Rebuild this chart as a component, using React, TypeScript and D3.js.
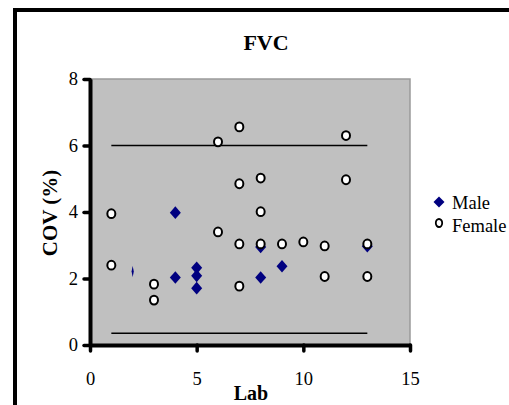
import React, { useRef, useEffect } from 'react';
import * as d3 from 'd3';

// values
const maleLab = [2, 4, 4, 5, 5, 5, 8, 8, 9, 13];
const maleCov = [2.21, 3.98, 2.03, 2.32, 2.08, 1.71, 2.95, 2.03, 2.37, 2.97];

const femaleLab = [1, 1, 3, 3, 6, 6, 7, 7, 7, 7, 8, 8, 8, 9, 10, 11, 11, 12, 12, 13, 13];
const femaleCov = [3.95, 2.4, 1.83, 1.35, 3.4, 6.11, 6.56, 4.85, 3.04, 1.77, 5.02, 4.01, 3.04, 3.04, 3.1, 2.98, 2.06, 6.3, 4.97, 3.04, 2.06];

const refLevels = [6, 0.35];
const refRange = [1, 13];

const xTicks = [0, 5, 10, 15];
const yTicks = [0, 2, 4, 6, 8];
const legendLabels = ['Male', 'Female'];

const FONT = 'Liberation Serif, Times New Roman, serif';
const NAVY = '#000080';

const App = () => {
  const ref = useRef<SVGSVGElement>(null);

  useEffect(() => {
    const width = 509, height = 405;
    const svg = d3.select(ref.current)
      .attr('width', width)
      .attr('height', height)
      .attr('font-family', FONT)
      .style('background-color', 'white');

    svg.selectAll('*').remove();

    const left = 90, top = 79, right = 410, bottom = 345;

    // outer frame, runs off the window on the right and bottom
    svg.append('rect')
      .attr('x', 15).attr('y', 10)
      .attr('width', 600).attr('height', 500)
      .attr('fill', 'none')
      .attr('stroke', 'black')
      .attr('stroke-width', 4);

    const x = d3.scaleLinear().domain([0, 15]).range([left, right]);
    const y = d3.scaleLinear().domain([0, 8]).range([bottom, top]);

    // plot area
    svg.append('rect')
      .attr('x', left).attr('y', top)
      .attr('width', right - left).attr('height', bottom - top)
      .attr('fill', '#c0c0c0')
      .attr('stroke', '#9a9a9a')
      .attr('stroke-width', 1.5);

    // reference lines
    svg.append('g').selectAll('line')
      .data(refLevels)
      .enter()
      .append('line')
      .attr('x1', x(refRange[0]))
      .attr('x2', x(refRange[1]))
      .attr('y1', d => y(d))
      .attr('y2', d => y(d))
      .attr('stroke', 'black')
      .attr('stroke-width', 1.5);

    // axes
    const yAxis = d3.axisLeft(y).tickValues(yTicks).tickSize(6).tickPadding(6).tickSizeOuter(0);
    const yg = svg.append('g').attr('transform', `translate(${left}, 0)`).call(yAxis);
    const xAxis = d3.axisBottom(x).tickValues(xTicks).tickSize(6).tickPadding(21).tickSizeOuter(0);
    const xg = svg.append('g').attr('transform', `translate(0, ${bottom})`).call(xAxis);

    [yg, xg].forEach(g => {
      g.attr('font-family', FONT).attr('font-size', 18.5);
      g.select('.domain').attr('stroke', 'black').attr('stroke-width', 4);
      g.selectAll('.tick line').attr('stroke', 'black').attr('stroke-width', 3.5).attr('stroke-linecap', 'round');
      g.selectAll('.tick text').attr('fill', 'black').attr('font-family', FONT);
    });

    // male diamonds
    const diamond = 'M0,-6.3L5.5,0L0,6.3L-5.5,0Z';
    const maleData = maleLab.map((d, i) => [d, maleCov[i]]);
    svg.append('g')
      .selectAll('path')
      .data(maleData)
      .enter()
      .append('path')
      .attr('d', diamond)
      .attr('transform', (d, i) => `translate(${x(d[0])}, ${y(d[1])})` + (i === 0 ? ' scale(0.2, 0.9)' : ''))
      .attr('fill', NAVY);

    // female circles
    const femaleData = femaleLab.map((d, i) => [d, femaleCov[i]]);
    svg.append('g')
      .selectAll('ellipse')
      .data(femaleData)
      .enter()
      .append('ellipse')
      .attr('cx', d => x(d[0]))
      .attr('cy', d => y(d[1]))
      .attr('rx', 4)
      .attr('ry', 4.4)
      .attr('fill', 'white')
      .attr('stroke', 'black')
      .attr('stroke-width', 2);

    // title
    svg.append('text')
      .attr('x', 266).attr('y', 50)
      .attr('text-anchor', 'middle')
      .attr('font-family', FONT)
      .attr('font-size', 22)
      .attr('font-weight', 'bold')
      .text('FVC');

    // x label
    svg.append('text')
      .attr('x', 251).attr('y', 400)
      .attr('text-anchor', 'middle')
      .attr('font-family', FONT)
      .attr('font-size', 20)
      .attr('font-weight', 'bold')
      .text('Lab');

    // y label
    svg.append('g').attr('transform', `translate(57, 213)`).append('text')
      .attr('transform', 'rotate(-90)')
      .attr('text-anchor', 'middle')
      .attr('font-family', FONT)
      .attr('font-size', 21)
      .attr('font-weight', 'bold')
      .text('COV (%)');

    // legend
    const legend = svg.append('g').attr('transform', 'translate(439, 202)');
    legend.append('path').attr('d', 'M0,-5.5L5.5,0L0,5.5L-5.5,0Z').attr('fill', NAVY);
    legend.append('ellipse')
      .attr('cx', 0).attr('cy', 21).attr('rx', 3.2).attr('ry', 4)
      .attr('fill', 'white').attr('stroke', 'black').attr('stroke-width', 1.8);
    legend.selectAll('text.lab')
      .data(legendLabels)
      .enter()
      .append('text')
      .attr('class', 'lab')
      .attr('x', 13)
      .attr('y', (d, i) => i * 23 + 7)
      .attr('font-family', FONT)
      .attr('font-size', 18.5)
      .text(d => d);
  }, []);

  return (
    <div style={{ position: 'absolute', left: 0, top: 0 }}>
      <svg ref={ref} style={{ display: 'block' }}></svg>
    </div>
  );
};

export default App;
